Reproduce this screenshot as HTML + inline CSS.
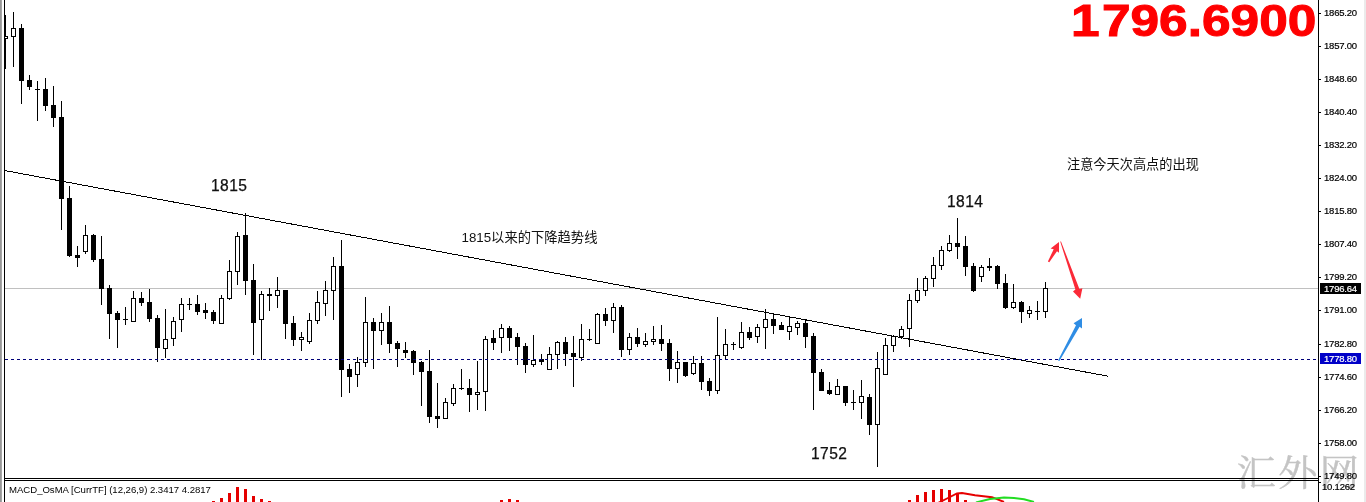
<!DOCTYPE html>
<html lang="zh-CN">
<head>
<meta charset="utf-8">
<title>XAUUSD chart</title>
<style>
html,body{margin:0;padding:0;background:#fff;}
body{width:1366px;height:502px;position:relative;overflow:hidden;font-family:"Liberation Sans","Noto Sans CJK SC",sans-serif;color:#000;}
#chart{position:absolute;left:0;top:0;width:1366px;height:502px;}
.wm{position:absolute;left:1236.5px;top:446.7px;font-family:"Liberation Serif","Noto Serif CJK SC",serif;font-size:39.5px;line-height:54px;letter-spacing:2.0px;color:#c4c4c4;white-space:nowrap;transform-origin:0 50%;transform:scaleY(0.93);-webkit-text-stroke:0.4px #c4c4c4;}
.al{position:absolute;left:1324px;width:38px;height:12px;line-height:12px;font-size:9.5px;letter-spacing:-0.2px;-webkit-text-stroke:0.2px;white-space:nowrap;}
.box{position:absolute;left:1320px;width:41px;height:11px;line-height:11px;font-size:9.5px;letter-spacing:-0.2px;-webkit-text-stroke:0.2px;color:#fff;padding-left:4px;box-sizing:border-box;white-space:nowrap;}
.num{position:absolute;font-size:15.6px;letter-spacing:0.45px;line-height:18px;white-space:nowrap;color:#111;-webkit-text-stroke:0.25px #111;}
.cn{position:absolute;font-size:13.3px;line-height:18px;white-space:nowrap;color:#111;}
.big{position:absolute;left:1070.9px;top:-5.6px;font-size:45px;line-height:54px;font-weight:bold;color:#f00;white-space:nowrap;transform-origin:0 0;transform:scaleX(1.143);-webkit-text-stroke:1.0px #f00;letter-spacing:0px;}
.ind{position:absolute;left:9px;top:484px;font-size:9.6px;line-height:12px;white-space:nowrap;letter-spacing:-0.03px;}
</style>
</head>
<body>
<div class="wm">汇外网</div>
<svg id="chart" width="1366" height="502" viewBox="0 0 1366 502">
<!-- frame -->
<g shape-rendering="crispEdges">
<rect x="0" y="0" width="1" height="502" fill="#989898"/><rect x="1" y="0" width="1" height="502" fill="#a6a6a6"/>
<rect x="1364" y="0" width="2" height="502" fill="#ebebeb"/>
<rect x="5" y="288" width="1313" height="1" fill="#c0c0c0"/>
</g>
<!-- trendline -->
<line x1="4.5" y1="170.5" x2="1108.5" y2="376.3" stroke="#000" stroke-width="1" shape-rendering="crispEdges"/>
<!-- candles -->
<g shape-rendering="crispEdges" fill="#000">
<rect x="5" y="15" width="1" height="54"/>
<rect x="3" y="36" width="5" height="3"/>
<rect x="4" y="37" width="3" height="1" fill="#fff"/>
<rect x="13" y="12" width="1" height="55"/>
<rect x="11" y="28" width="5" height="9"/>
<rect x="12" y="29" width="3" height="7" fill="#fff"/>
<rect x="21" y="24" width="1" height="80"/>
<rect x="19" y="28" width="5" height="53"/>
<rect x="29" y="75" width="1" height="15"/>
<rect x="27" y="80" width="5" height="7"/>
<rect x="37" y="81" width="1" height="40"/>
<rect x="35" y="89" width="5" height="1"/>
<rect x="45" y="78" width="1" height="33"/>
<rect x="43" y="89" width="5" height="17"/>
<rect x="53" y="86" width="1" height="41"/>
<rect x="51" y="105" width="5" height="13"/>
<rect x="61" y="101" width="1" height="129"/>
<rect x="59" y="117" width="5" height="82"/>
<rect x="69" y="186" width="1" height="71"/>
<rect x="67" y="198" width="5" height="58"/>
<rect x="77" y="246" width="1" height="21"/>
<rect x="75" y="255" width="5" height="3"/>
<rect x="85" y="225" width="1" height="29"/>
<rect x="83" y="235" width="5" height="17"/>
<rect x="84" y="236" width="3" height="15" fill="#fff"/>
<rect x="93" y="234" width="1" height="28"/>
<rect x="91" y="235" width="5" height="25"/>
<rect x="101" y="236" width="1" height="69"/>
<rect x="99" y="259" width="5" height="30"/>
<rect x="109" y="285" width="1" height="54"/>
<rect x="107" y="288" width="5" height="26"/>
<rect x="117" y="311" width="1" height="37"/>
<rect x="115" y="313" width="5" height="7"/>
<rect x="125" y="307" width="1" height="18"/>
<rect x="123" y="319" width="5" height="1"/>
<rect x="133" y="291" width="1" height="31"/>
<rect x="131" y="298" width="5" height="24"/>
<rect x="132" y="299" width="3" height="22" fill="#fff"/>
<rect x="141" y="292" width="1" height="14"/>
<rect x="139" y="298" width="5" height="5"/>
<rect x="149" y="289" width="1" height="33"/>
<rect x="147" y="302" width="5" height="17"/>
<rect x="157" y="315" width="1" height="47"/>
<rect x="155" y="318" width="5" height="30"/>
<rect x="165" y="309" width="1" height="49"/>
<rect x="163" y="339" width="5" height="10"/>
<rect x="164" y="340" width="3" height="8" fill="#fff"/>
<rect x="173" y="317" width="1" height="29"/>
<rect x="171" y="321" width="5" height="18"/>
<rect x="172" y="322" width="3" height="16" fill="#fff"/>
<rect x="181" y="298" width="1" height="34"/>
<rect x="179" y="304" width="5" height="16"/>
<rect x="180" y="305" width="3" height="14" fill="#fff"/>
<rect x="189" y="298" width="1" height="12"/>
<rect x="187" y="304" width="5" height="1"/>
<rect x="197" y="295" width="1" height="20"/>
<rect x="195" y="304" width="5" height="8"/>
<rect x="205" y="303" width="1" height="16"/>
<rect x="203" y="310" width="5" height="3"/>
<rect x="213" y="310" width="1" height="14"/>
<rect x="211" y="312" width="5" height="9"/>
<rect x="221" y="295" width="1" height="29"/>
<rect x="219" y="298" width="5" height="26"/>
<rect x="220" y="299" width="3" height="24" fill="#fff"/>
<rect x="229" y="260" width="1" height="40"/>
<rect x="227" y="271" width="5" height="28"/>
<rect x="228" y="272" width="3" height="26" fill="#fff"/>
<rect x="237" y="232" width="1" height="53"/>
<rect x="235" y="236" width="5" height="36"/>
<rect x="236" y="237" width="3" height="34" fill="#fff"/>
<rect x="245" y="213" width="1" height="82"/>
<rect x="243" y="235" width="5" height="46"/>
<rect x="253" y="264" width="1" height="91"/>
<rect x="251" y="280" width="5" height="43"/>
<rect x="261" y="291" width="1" height="69"/>
<rect x="259" y="294" width="5" height="26"/>
<rect x="260" y="295" width="3" height="24" fill="#fff"/>
<rect x="269" y="288" width="1" height="23"/>
<rect x="267" y="294" width="5" height="2"/>
<rect x="277" y="277" width="1" height="31"/>
<rect x="275" y="290" width="5" height="6"/>
<rect x="276" y="291" width="3" height="4" fill="#fff"/>
<rect x="285" y="290" width="1" height="49"/>
<rect x="283" y="290" width="5" height="34"/>
<rect x="293" y="316" width="1" height="30"/>
<rect x="291" y="323" width="5" height="17"/>
<rect x="301" y="332" width="1" height="19"/>
<rect x="299" y="337" width="5" height="3"/>
<rect x="300" y="338" width="3" height="1" fill="#fff"/>
<rect x="309" y="313" width="1" height="31"/>
<rect x="307" y="320" width="5" height="22"/>
<rect x="308" y="321" width="3" height="20" fill="#fff"/>
<rect x="317" y="291" width="1" height="33"/>
<rect x="315" y="302" width="5" height="19"/>
<rect x="316" y="303" width="3" height="17" fill="#fff"/>
<rect x="325" y="281" width="1" height="35"/>
<rect x="323" y="290" width="5" height="14"/>
<rect x="324" y="291" width="3" height="12" fill="#fff"/>
<rect x="333" y="257" width="1" height="63"/>
<rect x="331" y="266" width="5" height="25"/>
<rect x="332" y="267" width="3" height="23" fill="#fff"/>
<rect x="341" y="240" width="1" height="157"/>
<rect x="339" y="266" width="5" height="104"/>
<rect x="349" y="364" width="1" height="29"/>
<rect x="347" y="369" width="5" height="8"/>
<rect x="357" y="357" width="1" height="30"/>
<rect x="355" y="362" width="5" height="13"/>
<rect x="356" y="363" width="3" height="11" fill="#fff"/>
<rect x="365" y="297" width="1" height="70"/>
<rect x="363" y="322" width="5" height="41"/>
<rect x="364" y="323" width="3" height="39" fill="#fff"/>
<rect x="373" y="318" width="1" height="51"/>
<rect x="371" y="322" width="5" height="9"/>
<rect x="381" y="313" width="1" height="32"/>
<rect x="379" y="322" width="5" height="9"/>
<rect x="380" y="323" width="3" height="7" fill="#fff"/>
<rect x="389" y="306" width="1" height="47"/>
<rect x="387" y="322" width="5" height="22"/>
<rect x="397" y="341" width="1" height="26"/>
<rect x="395" y="343" width="5" height="6"/>
<rect x="405" y="342" width="1" height="16"/>
<rect x="403" y="350" width="5" height="3"/>
<rect x="413" y="350" width="1" height="25"/>
<rect x="411" y="351" width="5" height="12"/>
<rect x="421" y="361" width="1" height="45"/>
<rect x="419" y="362" width="5" height="10"/>
<rect x="429" y="350" width="1" height="73"/>
<rect x="427" y="371" width="5" height="46"/>
<rect x="437" y="383" width="1" height="45"/>
<rect x="435" y="416" width="5" height="3"/>
<rect x="445" y="398" width="1" height="21"/>
<rect x="443" y="402" width="5" height="17"/>
<rect x="444" y="403" width="3" height="15" fill="#fff"/>
<rect x="453" y="384" width="1" height="22"/>
<rect x="451" y="388" width="5" height="16"/>
<rect x="452" y="389" width="3" height="14" fill="#fff"/>
<rect x="461" y="369" width="1" height="21"/>
<rect x="459" y="388" width="5" height="1"/>
<rect x="469" y="379" width="1" height="33"/>
<rect x="467" y="388" width="5" height="7"/>
<rect x="477" y="361" width="1" height="49"/>
<rect x="475" y="392" width="5" height="3"/>
<rect x="476" y="393" width="3" height="1" fill="#fff"/>
<rect x="485" y="336" width="1" height="75"/>
<rect x="483" y="339" width="5" height="53"/>
<rect x="484" y="340" width="3" height="51" fill="#fff"/>
<rect x="493" y="330" width="1" height="20"/>
<rect x="491" y="338" width="5" height="5"/>
<rect x="501" y="324" width="1" height="29"/>
<rect x="499" y="328" width="5" height="10"/>
<rect x="500" y="329" width="3" height="8" fill="#fff"/>
<rect x="509" y="326" width="1" height="25"/>
<rect x="507" y="328" width="5" height="10"/>
<rect x="517" y="333" width="1" height="32"/>
<rect x="515" y="337" width="5" height="10"/>
<rect x="525" y="343" width="1" height="30"/>
<rect x="523" y="346" width="5" height="19"/>
<rect x="533" y="335" width="1" height="32"/>
<rect x="531" y="360" width="5" height="5"/>
<rect x="532" y="361" width="3" height="3" fill="#fff"/>
<rect x="541" y="354" width="1" height="11"/>
<rect x="539" y="359" width="5" height="3"/>
<rect x="549" y="347" width="1" height="23"/>
<rect x="547" y="354" width="5" height="16"/>
<rect x="548" y="355" width="3" height="14" fill="#fff"/>
<rect x="557" y="341" width="1" height="28"/>
<rect x="555" y="342" width="5" height="13"/>
<rect x="556" y="343" width="3" height="11" fill="#fff"/>
<rect x="565" y="337" width="1" height="29"/>
<rect x="563" y="342" width="5" height="12"/>
<rect x="573" y="336" width="1" height="51"/>
<rect x="571" y="353" width="5" height="4"/>
<rect x="581" y="324" width="1" height="37"/>
<rect x="579" y="339" width="5" height="19"/>
<rect x="580" y="340" width="3" height="17" fill="#fff"/>
<rect x="589" y="329" width="1" height="12"/>
<rect x="587" y="339" width="5" height="1"/>
<rect x="597" y="313" width="1" height="31"/>
<rect x="595" y="314" width="5" height="30"/>
<rect x="596" y="315" width="3" height="28" fill="#fff"/>
<rect x="605" y="308" width="1" height="18"/>
<rect x="603" y="314" width="5" height="7"/>
<rect x="613" y="303" width="1" height="30"/>
<rect x="611" y="307" width="5" height="14"/>
<rect x="612" y="308" width="3" height="12" fill="#fff"/>
<rect x="621" y="305" width="1" height="52"/>
<rect x="619" y="307" width="5" height="43"/>
<rect x="629" y="333" width="1" height="22"/>
<rect x="627" y="337" width="5" height="13"/>
<rect x="628" y="338" width="3" height="11" fill="#fff"/>
<rect x="637" y="328" width="1" height="19"/>
<rect x="635" y="337" width="5" height="7"/>
<rect x="645" y="333" width="1" height="14"/>
<rect x="643" y="341" width="5" height="4"/>
<rect x="644" y="342" width="3" height="2" fill="#fff"/>
<rect x="653" y="326" width="1" height="19"/>
<rect x="651" y="339" width="5" height="3"/>
<rect x="652" y="340" width="3" height="1" fill="#fff"/>
<rect x="661" y="325" width="1" height="26"/>
<rect x="659" y="339" width="5" height="5"/>
<rect x="669" y="339" width="1" height="42"/>
<rect x="667" y="343" width="5" height="26"/>
<rect x="677" y="351" width="1" height="32"/>
<rect x="675" y="362" width="5" height="7"/>
<rect x="676" y="363" width="3" height="5" fill="#fff"/>
<rect x="685" y="362" width="1" height="15"/>
<rect x="683" y="362" width="5" height="14"/>
<rect x="693" y="356" width="1" height="19"/>
<rect x="691" y="363" width="5" height="11"/>
<rect x="692" y="364" width="3" height="9" fill="#fff"/>
<rect x="701" y="356" width="1" height="34"/>
<rect x="699" y="363" width="5" height="19"/>
<rect x="709" y="378" width="1" height="18"/>
<rect x="707" y="381" width="5" height="10"/>
<rect x="717" y="317" width="1" height="77"/>
<rect x="715" y="355" width="5" height="36"/>
<rect x="716" y="356" width="3" height="34" fill="#fff"/>
<rect x="725" y="329" width="1" height="31"/>
<rect x="723" y="344" width="5" height="12"/>
<rect x="724" y="345" width="3" height="10" fill="#fff"/>
<rect x="733" y="342" width="1" height="8"/>
<rect x="731" y="344" width="5" height="1"/>
<rect x="741" y="322" width="1" height="27"/>
<rect x="739" y="332" width="5" height="16"/>
<rect x="740" y="333" width="3" height="14" fill="#fff"/>
<rect x="749" y="327" width="1" height="13"/>
<rect x="747" y="332" width="5" height="6"/>
<rect x="757" y="324" width="1" height="19"/>
<rect x="755" y="327" width="5" height="10"/>
<rect x="756" y="328" width="3" height="8" fill="#fff"/>
<rect x="765" y="309" width="1" height="40"/>
<rect x="763" y="319" width="5" height="9"/>
<rect x="764" y="320" width="3" height="7" fill="#fff"/>
<rect x="773" y="314" width="1" height="20"/>
<rect x="771" y="319" width="5" height="7"/>
<rect x="781" y="322" width="1" height="8"/>
<rect x="779" y="325" width="5" height="5"/>
<rect x="789" y="316" width="1" height="24"/>
<rect x="787" y="326" width="5" height="6"/>
<rect x="788" y="327" width="3" height="4" fill="#fff"/>
<rect x="797" y="321" width="1" height="14"/>
<rect x="795" y="323" width="5" height="5"/>
<rect x="796" y="324" width="3" height="3" fill="#fff"/>
<rect x="805" y="320" width="1" height="28"/>
<rect x="803" y="323" width="5" height="14"/>
<rect x="813" y="333" width="1" height="77"/>
<rect x="811" y="336" width="5" height="37"/>
<rect x="821" y="369" width="1" height="22"/>
<rect x="819" y="372" width="5" height="19"/>
<rect x="829" y="382" width="1" height="13"/>
<rect x="827" y="390" width="5" height="4"/>
<rect x="837" y="379" width="1" height="16"/>
<rect x="835" y="386" width="5" height="9"/>
<rect x="836" y="387" width="3" height="7" fill="#fff"/>
<rect x="845" y="386" width="1" height="20"/>
<rect x="843" y="386" width="5" height="17"/>
<rect x="853" y="390" width="1" height="20"/>
<rect x="851" y="402" width="5" height="1"/>
<rect x="861" y="380" width="1" height="39"/>
<rect x="859" y="396" width="5" height="7"/>
<rect x="860" y="397" width="3" height="5" fill="#fff"/>
<rect x="869" y="394" width="1" height="41"/>
<rect x="867" y="397" width="5" height="28"/>
<rect x="877" y="352" width="1" height="115"/>
<rect x="875" y="368" width="5" height="57"/>
<rect x="876" y="369" width="3" height="55" fill="#fff"/>
<rect x="885" y="338" width="1" height="37"/>
<rect x="883" y="345" width="5" height="30"/>
<rect x="884" y="346" width="3" height="28" fill="#fff"/>
<rect x="893" y="335" width="1" height="17"/>
<rect x="891" y="336" width="5" height="10"/>
<rect x="892" y="337" width="3" height="8" fill="#fff"/>
<rect x="901" y="326" width="1" height="13"/>
<rect x="899" y="329" width="5" height="8"/>
<rect x="900" y="330" width="3" height="6" fill="#fff"/>
<rect x="909" y="294" width="1" height="53"/>
<rect x="907" y="300" width="5" height="29"/>
<rect x="908" y="301" width="3" height="27" fill="#fff"/>
<rect x="917" y="278" width="1" height="25"/>
<rect x="915" y="290" width="5" height="11"/>
<rect x="916" y="291" width="3" height="9" fill="#fff"/>
<rect x="925" y="276" width="1" height="20"/>
<rect x="923" y="278" width="5" height="13"/>
<rect x="924" y="279" width="3" height="11" fill="#fff"/>
<rect x="933" y="257" width="1" height="30"/>
<rect x="931" y="265" width="5" height="14"/>
<rect x="932" y="266" width="3" height="12" fill="#fff"/>
<rect x="941" y="246" width="1" height="24"/>
<rect x="939" y="250" width="5" height="16"/>
<rect x="940" y="251" width="3" height="14" fill="#fff"/>
<rect x="949" y="235" width="1" height="17"/>
<rect x="947" y="243" width="5" height="8"/>
<rect x="948" y="244" width="3" height="6" fill="#fff"/>
<rect x="957" y="218" width="1" height="41"/>
<rect x="955" y="243" width="5" height="4"/>
<rect x="965" y="236" width="1" height="40"/>
<rect x="963" y="246" width="5" height="21"/>
<rect x="973" y="263" width="1" height="29"/>
<rect x="971" y="266" width="5" height="25"/>
<rect x="981" y="265" width="1" height="17"/>
<rect x="979" y="267" width="5" height="10"/>
<rect x="980" y="268" width="3" height="8" fill="#fff"/>
<rect x="989" y="258" width="1" height="13"/>
<rect x="987" y="266" width="5" height="2"/>
<rect x="997" y="265" width="1" height="24"/>
<rect x="995" y="266" width="5" height="18"/>
<rect x="1005" y="274" width="1" height="35"/>
<rect x="1003" y="283" width="5" height="25"/>
<rect x="1013" y="284" width="1" height="25"/>
<rect x="1011" y="302" width="5" height="6"/>
<rect x="1012" y="303" width="3" height="4" fill="#fff"/>
<rect x="1021" y="301" width="1" height="22"/>
<rect x="1019" y="302" width="5" height="10"/>
<rect x="1029" y="306" width="1" height="12"/>
<rect x="1027" y="310" width="5" height="4"/>
<rect x="1028" y="311" width="3" height="2" fill="#fff"/>
<rect x="1037" y="301" width="1" height="19"/>
<rect x="1035" y="311" width="5" height="1"/>
<rect x="1045" y="282" width="1" height="36"/>
<rect x="1043" y="288" width="5" height="24"/>
<rect x="1044" y="289" width="3" height="22" fill="#fff"/>
</g>
<rect x="2" y="0" width="2" height="502" fill="#fff"/>
<line x1="5" y1="359.5" x2="1318" y2="359.5" stroke="#000078" stroke-width="1" stroke-dasharray="3 3" shape-rendering="crispEdges"/>
<!-- indicator -->
<g shape-rendering="crispEdges" fill="#e40000">
<rect x="212" y="501" width="3" height="1"/>
<rect x="220" y="498" width="3" height="4"/>
<rect x="228" y="493" width="3" height="9"/>
<rect x="236" y="487" width="3" height="15"/>
<rect x="244" y="489" width="3" height="13"/>
<rect x="252" y="496" width="3" height="6"/>
<rect x="260" y="499" width="3" height="3"/>
<rect x="268" y="501" width="3" height="1"/>
<rect x="500" y="500" width="3" height="2"/>
<rect x="508" y="499" width="3" height="3"/>
<rect x="516" y="500" width="3" height="2"/>
<rect x="908" y="500" width="3" height="2"/>
<rect x="916" y="495" width="3" height="7"/>
<rect x="924" y="492" width="3" height="10"/>
<rect x="932" y="490" width="3" height="12"/>
<rect x="940" y="489" width="3" height="13"/>
<rect x="948" y="490" width="3" height="12"/>
<rect x="956" y="494" width="3" height="8"/>
<rect x="964" y="500" width="3" height="2"/>
</g>
<polyline points="938,503 948,498 957,493.5 962,493 975,495.3 992,497.2 1004,502" fill="none" stroke="#e60000" stroke-width="1.9"/>
<polyline points="976,502.5 990,499 1004,497.5 1014,498 1024,499.3 1034,502" fill="none" stroke="#22dd22" stroke-width="1.9"/>
<!-- frame lines -->
<g shape-rendering="crispEdges" fill="#000">
<rect x="4" y="0" width="1" height="502"/>
<rect x="1318" y="0" width="1" height="502"/>
<rect x="4" y="478" width="1315" height="1"/>
<rect x="4" y="480" width="1315" height="1"/>
<rect x="1319" y="13" width="2" height="1"/>
<rect x="1319" y="46" width="2" height="1"/>
<rect x="1319" y="79" width="2" height="1"/>
<rect x="1319" y="112" width="2" height="1"/>
<rect x="1319" y="145" width="2" height="1"/>
<rect x="1319" y="178" width="2" height="1"/>
<rect x="1319" y="211" width="2" height="1"/>
<rect x="1319" y="244" width="2" height="1"/>
<rect x="1319" y="277" width="2" height="1"/>
<rect x="1319" y="310" width="2" height="1"/>
<rect x="1319" y="344" width="2" height="1"/>
<rect x="1319" y="377" width="2" height="1"/>
<rect x="1319" y="410" width="2" height="1"/>
<rect x="1319" y="443" width="2" height="1"/>
<rect x="1319" y="476" width="2" height="1"/>
<rect x="1319" y="482" width="2" height="1"/>
</g>
<!-- arrows -->
<g fill="#fb2a38">
<polygon points="1047.9,261.4 1053.7,249.2 1050.6,248.4 1059,242 1059,252.8 1057,251.2 1049.3,262.2"/>
<polygon points="1060.2,241.6 1075.4,289.6 1073,291.4 1080.2,298.8 1082.4,288.2 1079.4,289 1061,241.4"/>
</g>
<g fill="#2f8de4">
<polygon points="1058,360.6 1076,325.2 1073.6,323.2 1082,318 1082,328.6 1079.6,326.8 1059.4,361"/>
</g>
</svg>
<div class="al" style="top:7px">1865.20</div>
<div class="al" style="top:40px">1857.00</div>
<div class="al" style="top:73px">1848.60</div>
<div class="al" style="top:106px">1840.40</div>
<div class="al" style="top:139px">1832.20</div>
<div class="al" style="top:172px">1824.00</div>
<div class="al" style="top:205px">1815.80</div>
<div class="al" style="top:238px">1807.40</div>
<div class="al" style="top:271px">1799.20</div>
<div class="al" style="top:304px">1791.00</div>
<div class="al" style="top:338px">1782.80</div>
<div class="al" style="top:371px">1774.60</div>
<div class="al" style="top:404px">1766.20</div>
<div class="al" style="top:437px">1758.00</div>
<div class="al" style="top:470px">1749.80</div>
<div class="al" style="top:481px;left:1322px">10.1262</div>
<div class="box" style="top:283px;background:#000">1796.64</div>
<div class="box" style="top:353px;background:#0000c8">1778.80</div>
<div class="num" style="left:211px;top:177px">1815</div>
<div class="num" style="left:947px;top:193px">1814</div>
<div class="num" style="left:811px;top:445px">1752</div>
<div class="cn" style="left:461.5px;top:228.6px;">1815以来的下降趋势线</div>
<div class="cn" style="left:1067px;top:155.6px;font-size:13.2px">注意今天次高点的出现</div>
<div class="big"><span style="margin-right:2px">1</span>796.6900</div>
<div class="ind">MACD_OsMA [CurrTF] (12,26,9) 2.3417 4.2817</div>
</body>
</html>
